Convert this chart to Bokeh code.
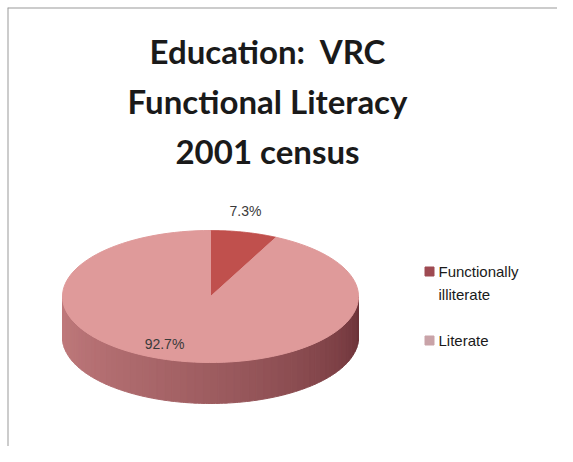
import numpy as np
from bokeh.plotting import figure
from bokeh.models import Range1d, Span
from bokeh.core.properties import value
from bokeh.embed import file_html
from bokeh.resources import INLINE

# ---- data ----
categories = ["Functionally illiterate", "Literate"]
shares = [7.3, 92.7]
share_labels = ["7.3%", "92.7%"]
title_lines = ["Education:\u00a0\u00a0VRC", "Functional Literacy", "2001 census"]
legend_lines = [["Functionally", "illiterate"], ["Literate"]]

top_colors = ["#c0504d", "#df9a9a"]
legend_colors = ["#9e4a52", "#c9a3a8"]

W, H = 557, 446
B = 7  # frame offset inside the figure
FW, FH = W - B, H - B


def px(x):
    return x - B


def py(y):
    return FH - (y - B)


p = figure(width=W, height=H, output_backend="svg", toolbar_location=None,
           x_range=Range1d(0, FW), y_range=Range1d(0, FH),
           min_border_left=B, min_border_top=B, min_border_right=0, min_border_bottom=0)
p.axis.visible = False
p.grid.visible = False
p.outline_line_color = None
p.background_fill_color = "white"
p.border_fill_color = "white"

# frame: only top and left edges are visible in the cropped original
p.add_layout(Span(location=FH, dimension="width", line_color="#9a9a9a", line_width=2))
p.add_layout(Span(location=0, dimension="height", line_color="#9a9a9a", line_width=2))

# ---- pie geometry ----
cx, cy = px(210), py(296)
rx, ry = 148, 66
depth = 41

# side (visible lower half) with shading strips
N = 60
angles = np.linspace(np.pi, 2 * np.pi, N + 1)
light = np.array([192, 122, 124])
dark = np.array([108, 50, 56])
xs_side, ys_side, cols_side = [], [], []
for i in range(N):
    seg = np.linspace(angles[i], angles[i + 1], 4)
    xt = cx + rx * np.cos(seg)
    yt = cy + ry * np.sin(seg)
    xs_side.append(list(xt) + list(xt[::-1]))
    ys_side.append(list(yt) + list((yt - depth)[::-1]))
    t = i / (N - 1)
    w = t ** 1.3
    c = (light * (1 - w) + dark * w).astype(int)
    cols_side.append("#%02x%02x%02x" % tuple(c))
p.patches(xs_side, ys_side, fill_color=cols_side, line_color=cols_side, line_width=1)

# top wedges
cum = np.concatenate([[0], np.cumsum(shares)]) / sum(shares)
xs_top, ys_top = [], []
for i in range(len(shares)):
    th = np.pi / 2 - np.linspace(cum[i], cum[i + 1], 120) * 2 * np.pi
    xs_top.append([cx] + list(cx + rx * np.cos(th)))
    ys_top.append([cy] + list(cy + ry * np.sin(th)))
p.patches(xs_top, ys_top, fill_color=top_colors, line_color=top_colors, line_width=1)

# data labels
lab_x = [px(245), px(164)]
lab_y = [py(210), py(343)]
p.text(x=lab_x, y=lab_y, text=share_labels, text_align="center", text_baseline="middle",
       text_font=value("Liberation Sans"), text_font_size="14px", text_color="#3a3a3a")

# title
ty = [py(50), py(100), py(150)]
p.text(x=[px(267)] * 3, y=ty, text=title_lines, text_align="center", text_baseline="middle",
       text_font=value("Lato"), text_font_style="bold", text_font_size="33px", text_color="#1a1a1a")

# legend
leg_y = [py(271), py(340)]
p.scatter(x=[px(429)] * 2, y=leg_y, marker="square", size=9, fill_color=legend_colors,
          line_color=legend_colors)
lx, ly, lt = [], [], []
for k, lines in enumerate(legend_lines):
    for j, s in enumerate(lines):
        lx.append(px(438))
        ly.append(leg_y[k] - j * 23)
        lt.append(s)
p.text(x=lx, y=ly, text=lt, text_align="left", text_baseline="middle",
       text_font=value("Liberation Sans"), text_font_size="15px", text_color="#1a1a1a")

open("out.html", "w").write(file_html(p, INLINE))
